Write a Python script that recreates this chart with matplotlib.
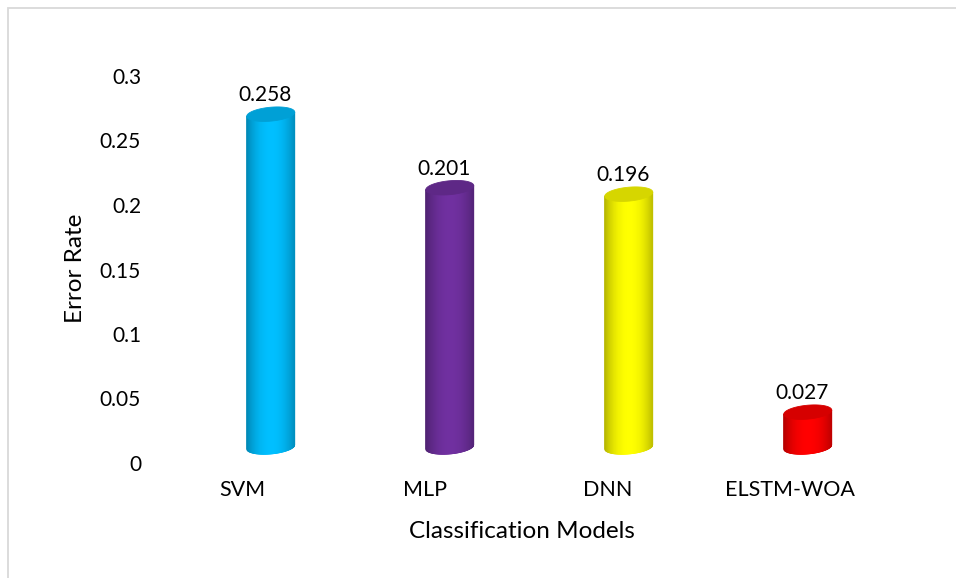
import numpy as np
import matplotlib
matplotlib.use("Agg")
import matplotlib.pyplot as plt
from matplotlib.transforms import ScaledTranslation
from matplotlib.patches import Polygon, Rectangle
from matplotlib.collections import PolyCollection
from matplotlib.colors import to_rgb

# Data
models = ["SVM", "MLP", "DNN", "ELSTM-WOA"]
error_rate = [0.258, 0.201, 0.196, 0.027]
bar_colors = ["#00BFFF", "#7030A0", "#FFFF00", "#FF0000"]
y_ticks = [0, 0.05, 0.1, 0.15, 0.2, 0.25, 0.3]
y_tick_labels = ["0", "0.05", "0.1", "0.15", "0.2", "0.25", "0.3"]

plt.rcParams['font.family'] = ['Lato', 'DejaVu Sans']
FS_NUM = 15
FS_CAT = 15.5
FS_TITLE = 17.5
DPI = 100
W, H = 956, 578

fig = plt.figure(figsize=(W / DPI, H / DPI), dpi=DPI)
ax = fig.add_axes([151.5 / W, 115 / H, 730 / W, 387 / H])
ax.set_xlim(-0.5, 3.5)
ax.set_ylim(0, 0.3)
for s in ax.spines.values():
    s.set_visible(False)
ax.set_xticks(range(len(models)))
ax.set_xticklabels(models, fontsize=FS_CAT)
ax.set_yticks(y_ticks)
ax.set_yticklabels(y_tick_labels, fontsize=FS_NUM)
ax.tick_params(axis='both', length=0)
ax.tick_params(axis='x', pad=12)
ax.tick_params(axis='y', pad=7.5)

# cylinder geometry (data units of this axes)
half_w = 0.1315       # half width of a cylinder
ry = 0.0054           # semi-height of the elliptical caps
tilt = 0.0032         # slight perspective tilt of the caps
n_strips = 90

def shade(u):
    d = np.abs(u - 0.52) / 0.52
    return 1.0 - 0.30 * d ** 2.2

for i, (val, col) in enumerate(zip(error_rate, bar_colors)):
    dx_px = 28 - 3.5 * i
    dy_px = 16
    trans = ax.transData + ScaledTranslation(dx_px / DPI, dy_px / DPI, fig.dpi_scale_trans)
    base = np.array(to_rgb(col))
    u = np.linspace(0, 1, n_strips + 1)
    xs = i + (u - 0.5) * 2 * half_w
    yb = -ry * np.sqrt(np.clip(1 - (2 * u - 1) ** 2, 0, None)) + tilt * (u - 0.5)
    yt = val + tilt * (u - 0.5)
    polys, cols = [], []
    for k in range(n_strips):
        polys.append([(xs[k], yb[k]), (xs[k + 1], yb[k + 1]),
                      (xs[k + 1], yt[k + 1]), (xs[k], yt[k])])
        um = 0.5 * (u[k] + u[k + 1])
        cols.append(np.clip(base * shade(um), 0, 1))
    pc = PolyCollection(polys, facecolors=cols, edgecolors=cols, linewidths=0.6,
                        transform=trans, zorder=3)
    ax.add_collection(pc)
    # top cap
    t = np.linspace(0, 2 * np.pi, 120)
    cx = i + half_w * np.cos(t)
    cy = val + ry * np.sin(t) + tilt * (np.cos(t) / 2)
    cap_col = np.clip(base * 0.84, 0, 1)
    cap = Polygon(np.column_stack([cx, cy]), closed=True, facecolor=cap_col,
                  edgecolor=cap_col, lw=0.6, transform=trans, zorder=4)
    ax.add_patch(cap)
    # value label
    ax.annotate(f"{val:g}", xy=(i, val), xycoords=trans,
                xytext=((-6) * 72 / DPI, 13 * 72 / DPI), textcoords='offset points',
                ha='center', va='baseline', fontsize=FS_NUM, zorder=5)

fig.text(75 / W, 1 - 268 / H, "Error Rate", rotation=90, ha='center', va='center',
         fontsize=FS_TITLE)
fig.text(522 / W, 1 - 532 / H, "Classification Models", ha='center', va='center',
         fontsize=FS_TITLE)

# chart-area border
fig.patches.append(Rectangle((7.5 / W, -0.05), 1.0, (H - 8.5) / H + 0.05,
                             transform=fig.transFigure, fill=False,
                             edgecolor='#D9D9D9', lw=1.3))

fig.savefig("out.png", dpi=DPI)
